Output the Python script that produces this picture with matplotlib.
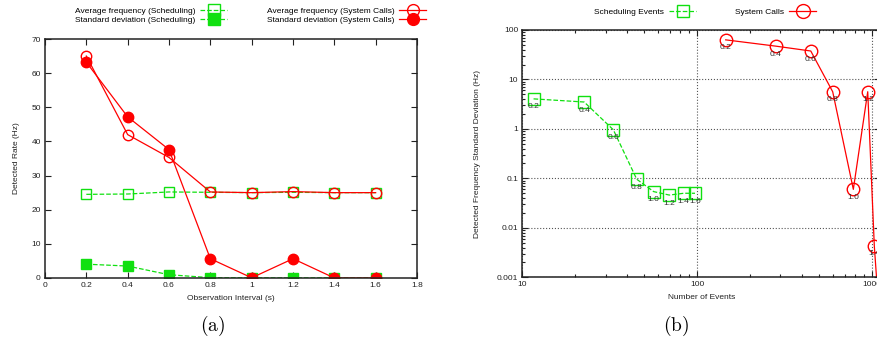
import numpy as np
import matplotlib
matplotlib.use("Agg")
import matplotlib.pyplot as plt
from matplotlib.lines import Line2D

plt.rcParams['font.family'] = ['Liberation Sans', 'DejaVu Sans']
plt.rcParams['mathtext.fontset'] = 'cm'

# observation intervals (s)
intervals = [0.2, 0.4, 0.6, 0.8, 1.0, 1.2, 1.4, 1.6]
interval_labels = ['0.2', '0.4', '0.6', '0.8', '1.0', '1.2', '1.4', '1.6']

# (a) detected rate
sched_avg = [24.5, 24.6, 25.2, 25.1, 25.0, 25.1, 25.0, 25.0]
sys_avg = [65.0, 42.0, 35.3, 25.2, 25.0, 25.3, 25.0, 25.0]

# standard deviations (used in both panels)
sched_std = [4.05, 3.5, 0.96, 0.096, 0.054, 0.046, 0.05, 0.05]
sys_std = [63.2, 47.2, 37.6, 5.65, 0.06, 5.65, 0.0043, 0.0002]

# (b) number of events
sched_events = [11.6, 22.6, 33.2, 45.2, 56.5, 69.4, 83.9, 97.4]
sys_events = [146, 282, 448, 598, 785, 949, 1035, 1100]

green = '#10e010'
red = '#ff0000'
W, H = 878, 341

fig = plt.figure(figsize=(W / 100, H / 100), dpi=100)

def tick_style(ax):
    ax.tick_params(which='both', direction='in', top=True, right=True,
                   labelsize=6, width=0.8, colors='#222222')
    ax.tick_params(which='major', length=4, pad=3)
    ax.tick_params(which='minor', length=2)
    for s in ax.spines.values():
        s.set_linewidth(1.1)
        s.set_color('#222222')

# ---------- (a)
ax1 = fig.add_axes([45 / W, 1 - 278 / H, 372 / W, 239 / H])
ax1.plot(intervals, sched_avg, '--', color=green, lw=0.9, marker='s', ms=7,
         mfc='none', mec=green, mew=1.0)
ax1.plot(intervals, sched_std, '--', color=green, lw=0.9, marker='s', ms=7,
         mfc=green, mec=green)
ax1.plot(intervals, sys_avg, '-', color=red, lw=0.9, marker='o', ms=7.5,
         mfc='none', mec=red, mew=1.0)
ax1.plot(intervals, sys_std, '-', color=red, lw=0.9, marker='o', ms=7.5,
         mfc=red, mec=red)
ax1.set_xlim(0, 1.8)
ax1.set_ylim(0, 70)
xt = [0, 0.2, 0.4, 0.6, 0.8, 1.0, 1.2, 1.4, 1.6, 1.8]
ax1.set_xticks(xt)
ax1.set_xticklabels(['0', '0.2', '0.4', '0.6', '0.8', '1', '1.2', '1.4', '1.6', '1.8'])
ax1.set_yticks(range(0, 71, 10))
tick_style(ax1)
ax1.set_xlabel('Observation Interval (s)', fontsize=6, labelpad=4, color='#222222')
ax1.set_ylabel('Detected Rate (Hz)', fontsize=6, labelpad=8, color='#222222')

h_sa = Line2D([], [], ls='--', color=green, lw=0.9, marker='s', ms=8, mfc='none', mec=green)
h_ss = Line2D([], [], ls='--', color=green, lw=0.9, marker='s', ms=8, mfc=green, mec=green)
h_ca = Line2D([], [], ls='-', color=red, lw=0.9, marker='o', ms=8.5, mfc='none', mec=red)
h_cs = Line2D([], [], ls='-', color=red, lw=0.9, marker='o', ms=8.5, mfc=red, mec=red)

leg_kw = dict(frameon=False, markerfirst=False, fontsize=6, borderpad=0,
              borderaxespad=0, handlelength=3.2, handletextpad=0.6,
              labelspacing=0.15, numpoints=1, loc='upper right')
fig.legend([h_sa, h_ss], ['Average frequency (Scheduling)', 'Standard deviation (Scheduling)'],
           bbox_to_anchor=(227 / W, 1 - 7 / H), **leg_kw)
fig.legend([h_ca, h_cs], ['Average frequency (System Calls)', 'Standard deviation (System Calls)'],
           bbox_to_anchor=(426 / W, 1 - 7 / H), **leg_kw)

# ---------- (b)
x0 = 522.3
ax2 = fig.add_axes([x0 / W, 1 - 277.3 / H, (880 - x0) / W, 247.3 / H])
ax2.plot(sched_events, sched_std, '--', color=green, lw=0.9, marker='s', ms=8,
         mfc='none', mec=green, mew=1.0)
ax2.plot(sys_events, sys_std, '-', color=red, lw=0.9, marker='o', ms=9,
         mfc='none', mec=red, mew=1.0)
for xs, ys in ((sched_events, sched_std), (sys_events, sys_std)):
    for xv, yv, lab in zip(xs, ys, interval_labels):
        if yv > 0.001:
            ax2.annotate(lab, (xv, yv), xytext=(0, -8), textcoords='offset pixels',
                         ha='center', va='center', fontsize=6, color='#333333')
ax2.set_xscale('log')
ax2.set_yscale('log')
ax2.set_xlim(10, 10 ** (1 + (880 - x0) / 174.7))
ax2.set_ylim(0.001, 100)
ax2.set_xticks([10, 100, 1000])
ax2.set_xticklabels(['10', '100', '1000'])
ax2.set_yticks([0.001, 0.01, 0.1, 1, 10, 100])
ax2.set_yticklabels(['0.001', '0.01', '0.1', '1', '10', '100'])
ax2.grid(which='major', ls=':', color='#555555', lw=0.8)
tick_style(ax2)
ax2.set_xlabel('Number of Events', fontsize=6, labelpad=4, color='#222222')
ax2.set_ylabel('Detected Frequency Standard Deviation (Hz)', fontsize=6,
               labelpad=11, color='#222222')

h_g = Line2D([], [], ls='--', color=green, lw=0.9, marker='s', ms=9, mfc='none', mec=green)
h_r = Line2D([], [], ls='-', color=red, lw=0.9, marker='o', ms=10, mfc='none', mec=red)
fig.legend([h_g], ['Scheduling Events'], bbox_to_anchor=(696 / W, 1 - 8 / H), **leg_kw)
fig.legend([h_r], ['System Calls'], bbox_to_anchor=(816 / W, 1 - 8 / H), **leg_kw)

# captions
fig.text(213 / W, 1 - 325.5 / H, r'$\mathrm{(a)}$', ha='center', va='center', fontsize=14)
fig.text(676 / W, 1 - 325.5 / H, r'$\mathrm{(b)}$', ha='center', va='center', fontsize=14)

fig.savefig('out.png', dpi=100)
